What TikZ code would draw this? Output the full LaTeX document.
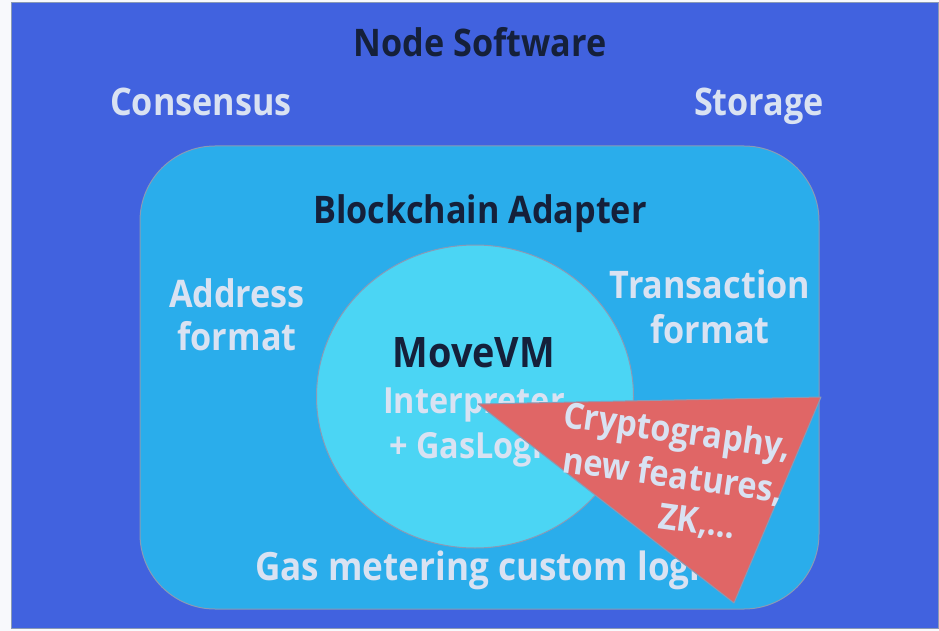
\documentclass[tikz,border=0pt]{standalone}
\usepackage{fontspec}
\usetikzlibrary{shapes.geometric}
\setmainfont{Open Sans}[FakeStretch=0.9]
\definecolor{pagebg}{HTML}{F8F9FC}
\definecolor{nodebg}{HTML}{4162DF}
\definecolor{adapterbg}{HTML}{2AADEB}
\definecolor{vmbg}{HTML}{4BD5F4}
\definecolor{tribg}{HTML}{E06666}
\definecolor{txtlight}{HTML}{D9E2F2}
\definecolor{txtdark}{HTML}{15203A}
\definecolor{edgegray}{HTML}{8A9AB5}
\begin{document}
\begin{tikzpicture}[x=1pt,y=-1pt,
  lbl/.style={inner sep=0pt,font=\bfseries\fontsize{38}{45}\selectfont},
  light/.style={lbl,text=txtlight},
  dark/.style={lbl,text=txtdark},
  trilbl/.style={inner sep=0pt,text=txtlight,rotate=-8,anchor=base west,font=\bfseries\fontsize{36}{40}\selectfont},
  outline/.style={draw=edgegray,line width=1pt}]
\useasboundingbox (0,0) rectangle (939,631);
\fill[pagebg] (0,0) rectangle (939,631);
\draw[outline,fill=nodebg] (11,3) rectangle (938,628);
\draw[outline,fill=adapterbg,rounded corners=75pt] (140,146) rectangle (819,609);
\node[outline,fill=vmbg,ellipse,minimum width=317pt,minimum height=303pt,inner sep=0pt] (vm) at (475,396.5) {};
\node[dark,anchor=base] (nodesw) at (480,57) {Node Software};
\node[light,anchor=base] (cons) at (201,116) {Consensus};
\node[light,anchor=base] (stor) at (759,116) {Storage};
\node[dark,anchor=base] (adapter) at (480,223) {Blockchain Adapter};
\node[light,anchor=base] (addr1) at (237,307) {Address};
\node[light,anchor=base] (addr2) at (237,350) {format};
\node[light,anchor=base] (tx1) at (710,298) {Transaction};
\node[light,anchor=base] (tx2) at (710,343) {format};
\node[dark,anchor=base,font=\bfseries\fontsize{42}{45}\selectfont] (movevm) at (474,367) {MoveVM};
\node[light,anchor=base,font=\bfseries\fontsize{36}{45}\selectfont] (interp1) at (474,413) {Interpreter};
\node[light,anchor=base,font=\bfseries\fontsize{36}{45}\selectfont] (interp2) at (474,458) {+ GasLogic};
\node[light,anchor=base west,font=\bfseries\fontsize{39}{45}\selectfont] (gas) at (255,580) {Gas metering custom logic};
\coordinate (t1) at (478,404);
\coordinate (t2) at (821,397);
\coordinate (t3) at (734,603);
\draw[outline,fill=tribg,line join=round] (t1) -- (t2) -- (t3) -- cycle;
\node[trilbl] (cr1) at (562,427) {Cryptography,};
\node[trilbl] (cr2) at (561,472) {new features,};
\node[trilbl] (cr3) at (657,528) {ZK,...};
\end{tikzpicture}
\end{document}
